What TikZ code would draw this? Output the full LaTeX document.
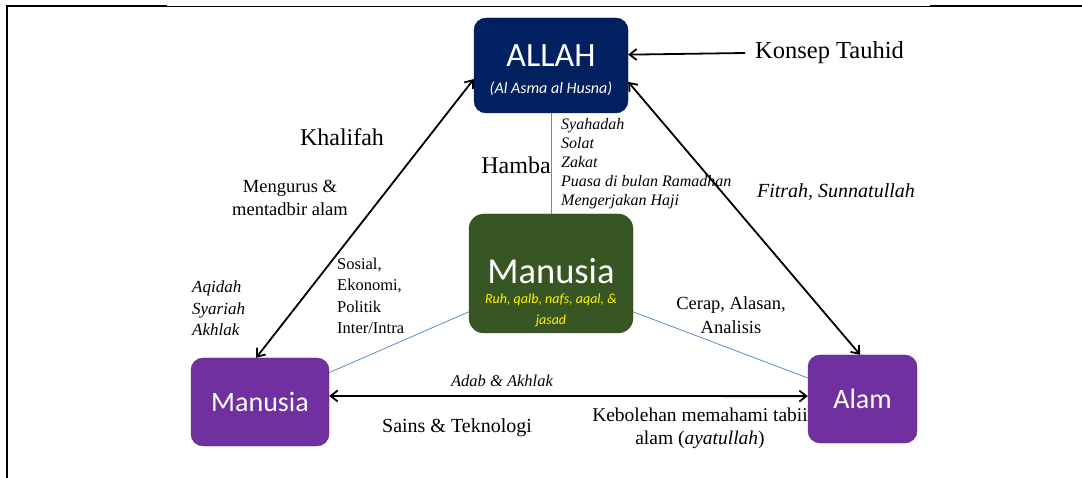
\documentclass[tikz,border=0pt]{standalone}
\usepackage{fontspec}
\setmainfont{Liberation Serif}
\newfontfamily\boxfont{Carlito}
\usetikzlibrary{arrows.meta,positioning}

\definecolor{navyallah}{RGB}{0,32,96}
\definecolor{hijau}{RGB}{55,86,35}
\definecolor{ungu}{RGB}{112,48,160}
\definecolor{garisbiru}{RGB}{91,141,200}

\tikzset{
  kotak/.style={rounded corners=12pt, draw=#1!80!black, fill=#1, text=white, align=center, inner sep=0pt, font=\boxfont},
  panah/.style={line width=1.8pt, {Straight Barb[length=7pt,width=11pt]}-{Straight Barb[length=7pt,width=11pt]}},
  hubung/.style={garisbiru, line width=0.8pt},
  teks/.style={align=center, inner sep=0pt},
  senarai/.style={align=left, inner sep=0pt}
}

\begin{document}
\begin{tikzpicture}[x=1pt,y=-1pt]
\useasboundingbox (0,0) rectangle (1082,478);
% frame
\draw[line width=2pt] (7,6) -- (167,6);
\draw[line width=0.8pt] (167,6) -- (930,6);
\draw[line width=2pt] (930,6) -- (1082,6);
\draw[line width=1.6pt] (7,5) -- (7,478);

% boxes
\node[kotak=navyallah, minimum width=154pt, minimum height=95pt] (allah) at (551,65.5) {};
\node[teks, text=white, font=\boxfont\fontsize{34}{36}\selectfont] (allahtajuk) at (551,56) {ALLAH};
\node[teks, text=white, font=\boxfont\itshape\fontsize{16}{18}\selectfont] (asma) at (551,89) {(Al Asma al Husna)};
\node[kotak=hijau, rounded corners=15pt, minimum width=164pt, minimum height=119pt] (inti) at (551,273.5) {};
\node[teks, text=white, font=\boxfont\fontsize{36.5}{38}\selectfont] (intitajuk) at (551,271) {Manusia};
\node[teks, text=yellow, font=\boxfont\itshape\fontsize{14}{21}\selectfont] (intiisi) at (551,310) {Ruh, qalb, nafs, aqal, \&\\jasad};
\node[kotak=ungu, minimum width=138pt, minimum height=88pt] (manusia) at (260,402) {\fontsize{28}{30}\selectfont Manusia};
\node[kotak=ungu, minimum width=109pt, minimum height=88pt] (alam) at (862.5,399) {\fontsize{28}{30}\selectfont Alam};

% thin links
\draw[hubung] (allah.south) -- (inti.north);
\draw[hubung] (inti.205) -- (manusia.23);
\draw[hubung] (inti.-25) -- (alam.159);

% arrows
\node[teks, anchor=west, font=\fontsize{24.5}{26}\selectfont] (tauhid) at (755,53) {Konsep Tauhid};
\draw[line width=1.8pt, -{Straight Barb[length=7pt,width=11pt]}] ([xshift=-10pt]tauhid.west) -- (allah.8);
\draw[panah] (allah.190) -- (manusia.95);
\draw[panah] (allah.-12) -- (alam.93);
\draw[panah] (manusia.5) -- (alam.177);

% labels
\node[teks, font=\fontsize{24}{26}\selectfont] (khalifah) at (342,137) {Khalifah};
\node[teks, font=\fontsize{24}{26}\selectfont] (hamba) at (516,165) {Hamba};
\node[teks, font=\fontsize{18.5}{23}\selectfont] (urus) at (290,198) {Mengurus \&\\mentadbir alam};
\node[senarai, anchor=north west, font=\itshape\fontsize{16}{19}\selectfont] (ibadah) at (561,118)
  {Syahadah\\Solat\\Zakat\\Puasa di bulan Ramadhan\\Mengerjakan Haji};
\node[teks, font=\itshape\fontsize{20}{22}\selectfont] (fitrah) at (836,192) {Fitrah, Sunnatullah};
\node[senarai, anchor=north west, font=\itshape\fontsize{17}{21.5}\selectfont] (aqidah) at (192,281) {Aqidah\\Syariah\\Akhlak};
\node[senarai, anchor=north west, font=\fontsize{16.5}{21.3}\selectfont] (sosial) at (337,258) {Sosial,\\Ekonomi,\\Politik\\Inter/Intra};
\node[teks, font=\fontsize{18.5}{23.5}\selectfont] (cerap) at (731,315) {Cerap, Alasan,\\Analisis};
\node[teks, font=\itshape\fontsize{16.5}{19}\selectfont] (adab) at (502,381) {Adab \& Akhlak};
\node[teks, font=\fontsize{20}{23}\selectfont] (sains) at (457,428) {Sains \& Teknologi};
\node[teks, font=\fontsize{19.5}{23}\selectfont] (boleh) at (700,428) {Kebolehan memahami tabii\\alam (\textit{ayatullah})};
\end{tikzpicture}
\end{document}
